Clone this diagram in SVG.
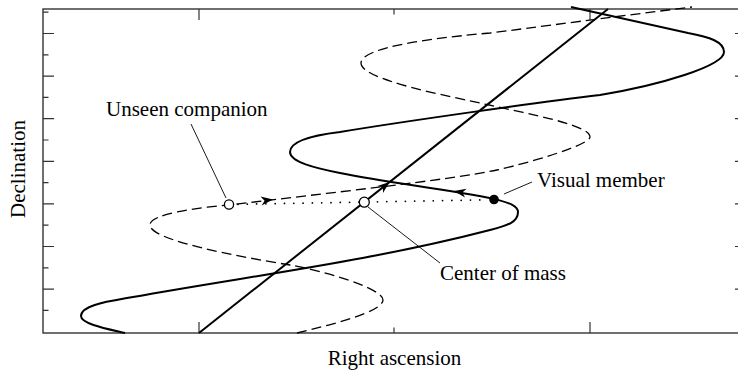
<svg xmlns="http://www.w3.org/2000/svg" width="738" height="371" viewBox="0 0 738 371">
<defs>
<style>
.frame{fill:none;stroke:#333;stroke-width:1.4}
.tick{fill:none;stroke:#333;stroke-width:1.2}
.solid{fill:none;stroke:#000;stroke-width:2}
.dash{fill:none;stroke:#000;stroke-width:1.3;stroke-dasharray:10 5}
.dot{fill:none;stroke:#000;stroke-width:1.8;stroke-linecap:round;stroke-dasharray:0 9.3}
.lead{fill:none;stroke:#000;stroke-width:0.9}
.lbl{font-family:"Liberation Serif","Times New Roman",serif;font-size:21px;fill:#000}
.open{fill:#fff;stroke:#000;stroke-width:1.3}
</style>
<path id="ah" d="M0,0 L-12,-4.5 L-8.5,0 L-12,4.5 Z"/>
</defs>
<rect width="738" height="371" fill="#fff"/>
<g id="axes">
<rect class="frame" x="43" y="9" width="703" height="324"/>
<path class="tick" d="M43,33.5h11M43,76.1h11M43,118.7h11M43,161.3h11M43,203.9h11M43,246.5h11M43,289.1h11
M43,12.2h5.5M43,54.8h5.5M43,97.4h5.5M43,140h5.5M43,182.6h5.5M43,225.2h5.5M43,267.8h5.5M43,310.4h5.5
M746,33.5h-11M746,76.1h-11M746,118.7h-11M746,161.3h-11M746,203.9h-11M746,246.5h-11M746,289.1h-11
M199,9v11M394,9v5.5M590,9v11M199,333v-11M394,333v-5.5M590,333v-11"/>
<text class="lbl" x="394.5" y="365" text-anchor="middle">Right ascension</text>
<text class="lbl" transform="translate(25,169) rotate(-90)" text-anchor="middle">Declination</text>
</g>
<g id="connectors">
<path id="visual-path" class="solid" d="M125,333 C108,329 81,324 81,316 C81,305 108,301.5 133,297 C253,275.4 370,261.2 490,230 C508,225.5 518,222 518,212 C518,205 507,202.6 495,199 C445,189 390,183 340,173 C315,168 290,162 290,152 C290,141 315,135 340,132 C400,122 540,102 600,95 C660,85 724,66 724,52 C724,42 710,37 688,33 L571,7"/>
<path id="companion-path" class="dash" d="M297,333 C330,325 383,312 383,300 C383,288 320,270 290,265 C235,256 150,240 150,225 C150,214 195,208 229,205 C319,194 450,180 497,170 C527,163.4 590,145 590,137 C590,125 529,114 489,105 C449,96 361,80 361,63 C361,50 410,40 490,33 C530,28 620,16 692,7"/>
<path id="cm-path" class="solid" d="M199,333 L608,9"/>
<path id="dotted" class="dot" d="M238,204.3 L488,199.8"/>
<use href="#ah" transform="translate(273,199.6) rotate(-7)"/>
<use href="#ah" transform="translate(389.6,182) rotate(-38.4)"/>
<use href="#ah" transform="translate(454,191) rotate(-170)"/>
<path class="lead" d="M191,124 L226,198M504,194 L532,182M368,207 L440,263"/>
</g>
<g id="unseen-companion">
<circle class="open" cx="229" cy="204.5" r="4.6"/>
<text class="lbl" x="106" y="116">Unseen companion</text>
</g>
<g id="center-of-mass">
<circle class="open" cx="364.3" cy="202.2" r="5"/>
<text class="lbl" x="440" y="280">Center of mass</text>
</g>
<g id="visual-member">
<circle cx="494" cy="199.5" r="4.8" fill="#000"/>
<text class="lbl" x="537" y="187">Visual member</text>
</g>
</svg>
